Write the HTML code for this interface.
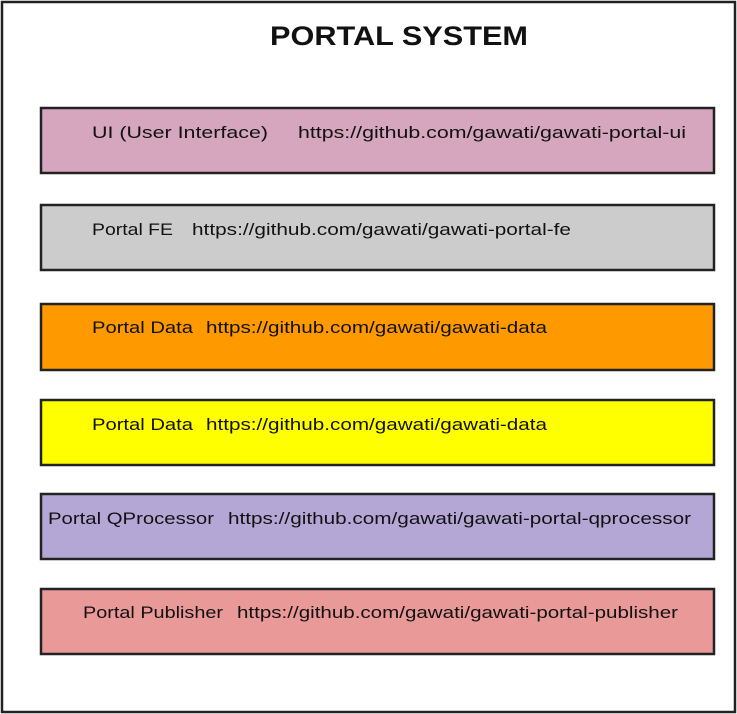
<!DOCTYPE html>
<html><head><meta charset="utf-8"><style>
html,body{margin:0;padding:0;background:#fff;width:737px;height:714px;overflow:hidden}
svg{display:block}
text{font-family:"Liberation Sans",sans-serif;font-size:17px;fill:#111}
</style></head><body>
<svg width="737" height="714" viewBox="0 0 737 714">
<rect x="2" y="2" width="733" height="710" fill="#fff" stroke="#222" stroke-width="2.5"/>
<text x="270" y="45" textLength="258" lengthAdjust="spacingAndGlyphs" style="font-size:27px;font-weight:bold">PORTAL SYSTEM</text>

<rect x="41" y="108" width="673" height="65" fill="#d5a6bd" stroke="#222" stroke-width="2.5"/>
<text x="92" y="138" textLength="176" lengthAdjust="spacingAndGlyphs">UI (User Interface)</text>
<text x="298" y="138" textLength="388" lengthAdjust="spacingAndGlyphs">https://github.com/gawati/gawati-portal-ui</text>

<rect x="41" y="205" width="673" height="65" fill="#cccccc" stroke="#222" stroke-width="2.5"/>
<text x="92" y="235" textLength="81" lengthAdjust="spacingAndGlyphs">Portal FE</text>
<text x="192" y="235" textLength="379" lengthAdjust="spacingAndGlyphs">https://github.com/gawati/gawati-portal-fe</text>

<rect x="41" y="304" width="673" height="66" fill="#ff9900" stroke="#222" stroke-width="2.5"/>
<text x="92" y="333" textLength="101" lengthAdjust="spacingAndGlyphs">Portal Data</text>
<text x="206" y="333" textLength="341" lengthAdjust="spacingAndGlyphs">https://github.com/gawati/gawati-data</text>

<rect x="41" y="400" width="673" height="65" fill="#ffff00" stroke="#222" stroke-width="2.5"/>
<text x="92" y="430" textLength="101" lengthAdjust="spacingAndGlyphs">Portal Data</text>
<text x="206" y="430" textLength="341" lengthAdjust="spacingAndGlyphs">https://github.com/gawati/gawati-data</text>

<rect x="41" y="494" width="673" height="65" fill="#b4a7d6" stroke="#222" stroke-width="2.5"/>
<text x="48" y="524" textLength="166" lengthAdjust="spacingAndGlyphs">Portal QProcessor</text>
<text x="228" y="524" textLength="463" lengthAdjust="spacingAndGlyphs">https://github.com/gawati/gawati-portal-qprocessor</text>

<rect x="41" y="589" width="673" height="65" fill="#ea9999" stroke="#222" stroke-width="2.5"/>
<text x="83" y="618" textLength="140" lengthAdjust="spacingAndGlyphs">Portal Publisher</text>
<text x="237" y="618" textLength="441" lengthAdjust="spacingAndGlyphs">https://github.com/gawati/gawati-portal-publisher</text>
</svg>
</body></html>
